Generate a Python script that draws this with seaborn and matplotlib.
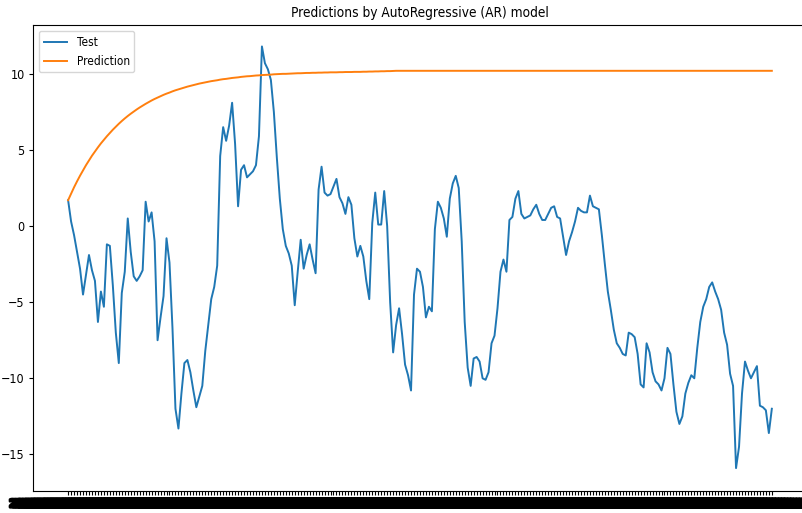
import pandas as pd
import seaborn as sns
from matplotlib import patheffects
from matplotlib import pyplot as plt

# the reference text looks squeezed sideways, so use the condensed face a bit smaller
plt.rcParams['font.stretch'] = 'condensed'
plt.rcParams['font.size'] = 9
plt.rcParams['xtick.major.size'] = 3.0
plt.rcParams['ytick.major.size'] = 3.0
plt.rcParams['xtick.major.pad'] = 3.0
plt.rcParams['ytick.major.pad'] = 3.0

TITLE = 'Predictions by AutoRegressive (AR) model'

test_values = [
    1.7, 0.3, -0.6, -1.7, -2.8, -4.5, -3.2, -1.9, -2.9, -3.6,
    -6.3, -4.3, -5.3, -1.2, -1.3, -3.9, -7.0, -9.0, -4.4, -3.0,
    0.5, -1.7, -3.3, -3.6, -3.3, -2.9, 1.6, 0.3, 0.9, -1.0,
    -7.5, -6.0, -4.6, -0.8, -2.4, -6.7, -12.0, -13.3, -11.0, -9.0,
    -8.8, -9.6, -10.8, -11.9, -11.2, -10.5, -8.2, -6.5, -4.8, -4.0,
    -2.6, 4.6, 6.5, 5.6, 6.6, 8.1, 5.4, 1.3, 3.7, 4.0,
    3.2, 3.4, 3.6, 4.0, 5.9, 11.8, 10.7, 10.3, 9.6, 7.5,
    4.5, 1.8, -0.2, -1.3, -1.8, -2.6, -5.2, -3.0, -0.9, -2.8,
    -1.9, -1.2, -2.2, -3.1, 2.4, 3.9, 2.2, 2.0, 2.1, 2.6,
    3.1, 1.9, 1.5, 0.8, 1.9, 1.4, -0.8, -2.0, -1.3, -2.0,
    -3.6, -4.8, 0.2, 2.2, 0.1, 0.1, 2.3, 0.0, -5.0, -8.3,
    -6.5, -5.4, -7.1, -9.1, -9.8, -10.8, -4.5, -2.8, -3.0, -4.0,
    -6.0, -5.3, -5.6, -0.2, 1.6, 1.2, 0.5, -0.7, 1.8, 2.8,
    3.3, 2.5, -1.0, -6.3, -9.3, -10.5, -8.7, -8.6, -8.9, -10.0,
    -10.1, -9.6, -7.7, -7.2, -5.4, -3.0, -2.2, -3.0, 0.4, 0.6,
    1.8, 2.3, 0.8, 0.5, 0.6, 0.7, 1.1, 1.4, 0.8, 0.4,
    0.4, 0.8, 1.2, 1.3, 0.6, 0.5, -0.7, -1.9, -1.0, -0.4,
    0.3, 1.2, 1.0, 0.9, 0.9, 2.0, 1.3, 1.2, 1.1, -0.6,
    -2.5, -4.3, -5.5, -6.8, -7.7, -8.0, -8.4, -8.5, -7.0, -7.1,
    -7.3, -8.4, -10.4, -10.6, -7.7, -8.3, -9.6, -10.2, -10.4, -10.8,
    -10.0, -8.0, -8.4, -10.4, -12.2, -13.0, -12.5, -11.0, -10.3, -9.8,
    -10.0, -8.0, -6.3, -5.3, -4.8, -4.0, -3.7, -4.3, -4.8, -5.5,
    -7.0, -7.8, -9.7, -10.5, -15.9, -14.5, -11.0, -8.9, -9.5, -10.0,
    -9.6, -9.2, -11.8, -11.9, -12.1, -13.6, -12.0,
]

pred_values = [
    1.70, 2.13, 2.55, 2.94, 3.31, 3.66, 4.00, 4.31, 4.62, 4.90,
    5.17, 5.43, 5.67, 5.90, 6.12, 6.33, 6.53, 6.72, 6.90, 7.07,
    7.23, 7.38, 7.52, 7.66, 7.79, 7.91, 8.03, 8.14, 8.25, 8.35,
    8.44, 8.53, 8.62, 8.70, 8.77, 8.85, 8.92, 8.98, 9.04, 9.10,
    9.16, 9.21, 9.26, 9.31, 9.36, 9.40, 9.44, 9.48, 9.52, 9.55,
    9.58, 9.62, 9.65, 9.67, 9.70, 9.73, 9.75, 9.77, 9.80, 9.82,
    9.84, 9.85, 9.87, 9.89, 9.90, 9.92, 9.93, 9.94, 9.95, 9.97,
    9.98, 9.99, 10.00, 10.00, 10.01, 10.02, 10.03, 10.04, 10.04, 10.05,
    10.06, 10.06, 10.07, 10.07, 10.08, 10.08, 10.09, 10.09, 10.10, 10.10,
    10.10, 10.11, 10.11, 10.12, 10.12, 10.12, 10.13, 10.13, 10.13, 10.14,
    10.14, 10.15, 10.15, 10.16, 10.16, 10.17, 10.17, 10.18, 10.18, 10.19,
]
pred_values = pred_values + [10.2] * (len(test_values) - len(pred_values))

dates = pd.date_range('2017-01-01', periods=len(test_values), freq='D')
date_labels = [d.strftime('%Y-%m-%d %H:%M:%S') for d in dates]

df = pd.DataFrame({
    'step': range(len(test_values)),
    'Test': test_values,
    'Prediction': pred_values,
})

fig = plt.figure(figsize=(8.03, 5.13), dpi=100)
ax = fig.add_axes([0.041, 0.043, 0.964, 0.908])

sns.lineplot(data=df, x='step', y='Test', ax=ax, label='Test', color='#1f77b4', linewidth=1.4)
sns.lineplot(data=df, x='step', y='Prediction', ax=ax, label='Prediction', color='#ff7f0e', linewidth=1.4)

ax.set_xticks(df['step'])
ax.set_xticklabels(date_labels, fontsize=8, fontweight='bold')
# the real labels are so dense that they merge into a solid black band
for lab in ax.get_xticklabels():
    lab.set_path_effects([patheffects.withStroke(linewidth=2.0, foreground='black')])
ax.set_ylim(-17.4, 13.2)
ax.set_xlabel('')
ax.set_ylabel('')
ax.set_title(TITLE, fontsize=9.8)
ax.legend(loc='upper left', fontsize=8.5)

fig.savefig('out.png', dpi=100)
